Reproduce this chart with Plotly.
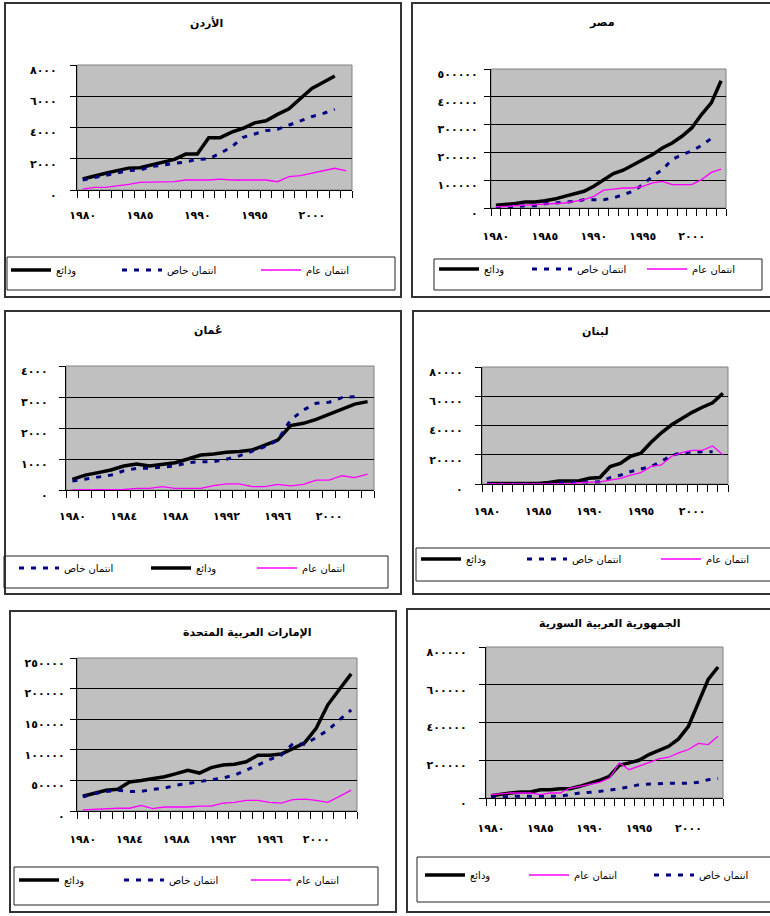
import plotly.graph_objects as go

# ---------------- data ----------------
years = [1980, 1981, 1982, 1983, 1984, 1985, 1986, 1987, 1988, 1989, 1990, 1991,
         1992, 1993, 1994, 1995, 1996, 1997, 1998, 1999, 2000, 2001, 2002, 2003]

series_names = {"dep": "ودائع", "priv": "انتمان خاص", "pub": "انتمان عام"}

# Jordan
jo_dep = [700, 900, 1070, 1240, 1400, 1420, 1600, 1800, 1960, 2300, 2300, 3350, 3350, 3700,
          3950, 4300, 4430, 4840, 5200, 5860, 6500, 6900, 7300, None]
jo_priv = [640, 800, 960, 1100, 1240, 1280, 1500, 1600, 1700, 1800, 1960, 2000, 2350, 2770,
           3370, 3600, 3800, 3880, 4160, 4400, 4700, 4900, 5160, None]
jo_pub = [60, 170, 170, 250, 360, 490, 490, 530, 530, 640, 640, 640, 700, 640, 640, 640, 640,
          530, 850, 920, 1070, 1220, 1390, 1220]

# Egypt
eg_dep = [10000, 12000, 16000, 22000, 22000, 26000, 32000, 42000, 52000, 60000, 78000, 102000,
          124000, 136000, 154000, 174000, 192000, 216000, 234000, 258000, 288000, 336000,
          378000, 458000]
eg_priv = [0, 3000, 5000, 8000, 8000, 15000, 18000, 20000, 24000, 30000, 30000, 30000, 36000,
           48000, 60000, 84000, 114000, 138000, 174000, 192000, 205000, 225000, 250000, None]
eg_pub = [4000, 6000, 8000, 10000, 12000, 14000, 16000, 18000, 24000, 30000, 42000, 64000,
          68000, 72000, 72000, 78000, 90000, 96000, 84000, 84000, 84000, 102000, 128000, 140000]

# Oman
om_dep = [340, 480, 560, 645, 775, 840, 775, 840, 880, 1000, 1130, 1160, 1215, 1240, 1290,
          1450, 1610, 2080, 2150, 2280, 2440, 2610, 2770, 2850]
om_priv = [290, 350, 400, 480, 620, 700, 700, 730, 775, 880, 915, 915, 990, 1100, 1240, 1400,
           1610, 2260, 2580, 2800, 2830, 2980, 3010, None]
om_pub = [0, 0, 0, 0, 20, 55, 55, 110, 55, 55, 55, 140, 195, 195, 110, 110, 180, 130, 180, 320,
          320, 460, 400, 510]

# Lebanon
lb_dep = [300, 300, 300, 300, 300, 300, 1000, 2000, 2000, 2200, 4000, 4400, 12000, 14000,
          19000, 21000, 28500, 35000, 40500, 45000, 49000, 52500, 55500, 62000]
lb_priv = [0, 0, 0, 0, 0, 0, 0, 1000, 1000, 1000, 1500, 1500, 4400, 6000, 8500, 10000, 12000,
           15500, 19500, 21500, 22000, 22000, 22000, None]
lb_pub = [0, 0, 0, 0, 0, 0, 0, 0, 0, 1000, 1000, 1500, 2700, 3900, 6000, 7800, 12000, 13000,
          19000, 21500, 23000, 23000, 26000, 20000]

# UAE
ae_dep = [24000, 29500, 34000, 35500, 47500, 50000, 52500, 56000, 61000, 66500, 62000, 71000,
          75000, 76500, 80500, 91000, 91000, 93000, 102000, 111500, 135000, 173500, 199000,
          224000]
ae_priv = [23000, 28500, 32000, 34000, 32000, 32000, 35500, 37500, 42000, 45000, 47500, 50000,
           54000, 58500, 66500, 75000, 84000, 91000, 110000, 109000, 120000, 132000, 149000,
           165000]
ae_pub = [2000, 3000, 4500, 4500, 4500, 9000, 4000, 6500, 6500, 6500, 8000, 8000, 13000, 14000,
          17500, 17500, 14000, 13000, 18500, 19500, 17500, 14000, 24000, 34000]

# Syria
sy_dep = [12000, 21000, 26500, 32000, 32000, 44000, 44000, 49500, 49500, 62000, 76000, 94000,
          115000, 173000, 186000, 200000, 230000, 253000, 274000, 313000, 380000, 504000,
          628000, 694000]
sy_pub = [18000, 23000, 26500, 26500, 26500, 18000, 26500, 26500, 53000, 62000, 71000, 83000,
          106000, 186000, 150000, 168000, 186000, 207000, 216000, 239000, 257000, 289000,
          283000, 327000]
sy_priv = [5000, 5000, 9000, 9000, 9000, 9000, 9000, 9000, 18000, 26500, 30000, 35000, 41000,
           50000, 58000, 71000, 74000, 74000, 78000, 78000, 78000, 83000, 97000, 103000]

# tick labels
x_ticks5 = [1980, 1985, 1990, 1995, 2000]
x_text5 = ["١٩٨٠", "١٩٨٥", "١٩٩٠", "١٩٩٥", "٢٠٠٠"]
x_ticks4 = [1980, 1984, 1988, 1992, 1996, 2000]
x_text4 = ["١٩٨٠", "١٩٨٤", "١٩٨٨", "١٩٩٢", "١٩٩٦", "٢٠٠٠"]

jo_yticks = [0, 2000, 4000, 6000, 8000]
jo_ytext = ["٠", "٢٠٠٠", "٤٠٠٠", "٦٠٠٠", "٨٠٠٠"]
eg_yticks = [0, 100000, 200000, 300000, 400000, 500000]
eg_ytext = ["٠", "١٠٠٠٠٠", "٢٠٠٠٠٠", "٣٠٠٠٠٠", "٤٠٠٠٠٠", "٥٠٠٠٠٠"]
om_yticks = [0, 1000, 2000, 3000, 4000]
om_ytext = ["٠", "١٠٠٠", "٢٠٠٠", "٣٠٠٠", "٤٠٠٠"]
lb_yticks = [0, 20000, 40000, 60000, 80000]
lb_ytext = ["٠", "٢٠٠٠٠", "٤٠٠٠٠", "٦٠٠٠٠", "٨٠٠٠٠"]
ae_yticks = [0, 50000, 100000, 150000, 200000, 250000]
ae_ytext = ["٠", "٥٠٠٠٠", "١٠٠٠٠٠", "١٥٠٠٠٠", "٢٠٠٠٠٠", "٢٥٠٠٠٠"]
sy_yticks = [0, 200000, 400000, 600000, 800000]
sy_ytext = ["٠", "٢٠٠٠٠٠", "٤٠٠٠٠٠", "٦٠٠٠٠٠", "٨٠٠٠٠٠"]

# ---------------- layout (pixels) ----------------
W, H = 770, 916
FONT = "DejaVu Sans"


def fx(x):
    return x / W


def fy(y):
    return 1 - y / H


panels = [
    dict(title="الأردن", data={"dep": jo_dep, "priv": jo_priv, "pub": jo_pub},
         yt=(jo_yticks, jo_ytext), xt=(x_ticks5, x_text5),
         plot=(77, 65, 352, 190), frame=(5, 3, 401, 297), leg=(7, 257, 395, 290),
         tpos=(207, 23), ygap=20, xdist=26,
         legend_items=[("dep", 12), ("priv", 123), ("pub", 262)], legy=270),
    dict(title="مصر", data={"dep": eg_dep, "priv": eg_priv, "pub": eg_pub},
         yt=(eg_yticks, eg_ytext), xt=(x_ticks5, x_text5),
         plot=(491, 69, 726, 208), frame=(412, 3, 773, 297), leg=(434, 259, 762, 290),
         tpos=(602, 23), ygap=13, xdist=29,
         legend_items=[("dep", 440), ("priv", 533), ("pub", 648)], legy=269),
    dict(title="عُمان", data={"dep": om_dep, "priv": om_priv, "pub": om_pub},
         yt=(om_yticks, om_ytext), xt=(x_ticks4, x_text4),
         plot=(66, 366, 374, 490), frame=(5, 311, 401, 594), leg=(4, 556, 388, 588),
         tpos=(208, 330), ygap=18, xdist=27,
         legend_items=[("priv", 20), ("dep", 152), ("pub", 258)], legy=568),
    dict(title="لبنان", data={"dep": lb_dep, "priv": lb_priv, "pub": lb_pub},
         yt=(lb_yticks, lb_ytext), xt=(x_ticks5, x_text5),
         plot=(482, 367, 728, 484), frame=(413, 311, 773, 594), leg=(416, 548, 773, 581),
         tpos=(595, 331), ygap=19, xdist=28,
         legend_items=[("dep", 422), ("priv", 528), ("pub", 662)], legy=559),
    dict(title="الإمارات العربية المتحدة", data={"dep": ae_dep, "priv": ae_priv, "pub": ae_pub},
         yt=(ae_yticks, ae_ytext), xt=(x_ticks4, x_text4),
         plot=(77, 658, 357, 811), frame=(10, 611, 396, 912), leg=(14, 867, 378, 905),
         tpos=(247, 632), ygap=12, xdist=29,
         legend_items=[("dep", 20), ("priv", 125), ("pub", 252)], legy=880),
    dict(title="الجمهورية العربية السورية", data={"dep": sy_dep, "priv": sy_priv, "pub": sy_pub},
         yt=(sy_yticks, sy_ytext), xt=(x_ticks5, x_text5),
         plot=(486, 647, 723, 798), frame=(407, 609, 773, 912), leg=(417, 857, 773, 902),
         tpos=(610, 623), ygap=19, xdist=31,
         legend_items=[("dep", 426), ("pub", 530), ("priv", 655)], legy=875),
]

styles = {
    "dep": dict(color="black", width=3.5),
    "priv": dict(color="#000080", width=3, dash="5px,7px"),
    "pub": dict(color="#FF00FF", width=1.3),
}

fig = go.Figure()
shapes = []
annotations = []
layout = dict(width=W, height=H, margin=dict(l=0, r=0, t=0, b=0, autoexpand=False),
              paper_bgcolor="white", plot_bgcolor="#C0C0C0", showlegend=True,
              font=dict(family=FONT, size=11, color="black"))

legend_counter = 1
for i, p in enumerate(panels, start=1):
    xa = "x" if i == 1 else f"x{i}"
    ya = "y" if i == 1 else f"y{i}"
    x0, y0, x1, y1 = p["plot"]
    legpos = {k: s for k, s in p["legend_items"]}
    for key in ["dep", "priv", "pub"]:
        legend_counter += 1
        lid = f"legend{legend_counter}"
        fig.add_trace(go.Scatter(
            x=years, y=p["data"][key], mode="lines", name=series_names[key],
            line=styles[key], xaxis=xa, yaxis=ya, legend=lid, connectgaps=False,
            showlegend=True, hoverinfo="skip"))
        layout[lid] = dict(
            x=fx(legpos[key] - 6), xanchor="left", y=fy(p["legy"]), yanchor="middle",
            bgcolor="rgba(0,0,0,0)", borderwidth=0, font=dict(family=FONT, size=10),
            itemwidth=40, orientation="h")
    yt, ytxt = p["yt"]
    xt, xtxt = p["xt"]
    layout["xaxis" if i == 1 else f"xaxis{i}"] = dict(
        domain=[fx(x0), fx(x1)], anchor=ya, range=[1979.5, 2003.5], automargin=False,
        tickmode="array", tickvals=xt, ticktext=xtxt, ticks="",
        tickfont=dict(family=FONT, size=11, weight="bold"),
        ticklabelstandoff=p["xdist"] - 11,
        showgrid=False, zeroline=False, showline=True, linecolor="black", linewidth=1,
        minor=dict(tickmode="linear", tick0=1979.5, dtick=1, ticks="outside", ticklen=7,
                   tickcolor="black", showgrid=False),
        fixedrange=True)
    layout["yaxis" if i == 1 else f"yaxis{i}"] = dict(
        domain=[fy(y1), fy(y0)], anchor=xa, range=[0, yt[-1]], automargin=False,
        tickmode="array", tickvals=yt, ticktext=ytxt, ticks="outside", ticklen=6,
        tickcolor="black", tickfont=dict(family=FONT, size=11, weight="bold"),
        ticklabelshift=5, ticklabelstandoff=max(p["ygap"] - 9, 0),
        showgrid=True, gridcolor="black", gridwidth=1, zeroline=False,
        showline=True, linecolor="black", linewidth=1, fixedrange=True)
    # plot-area border (top/right gray)
    shapes.append(dict(type="rect", xref=f"{xa} domain", yref=f"{ya} domain",
                       x0=0, x1=1, y0=0, y1=1, line=dict(color="#808080", width=1),
                       layer="below"))
    # panel frame
    fx0, fy0, fx1, fy1 = p["frame"]
    shapes.append(dict(type="rect", xref="paper", yref="paper",
                       x0=fx(fx0), x1=fx(fx1), y0=fy(fy1), y1=fy(fy0),
                       line=dict(color="#333333", width=2)))
    # legend box
    lx0, ly0, lx1, ly1 = p["leg"]
    shapes.append(dict(type="rect", xref="paper", yref="paper",
                       x0=fx(lx0), x1=fx(lx1), y0=fy(ly1), y1=fy(ly0),
                       line=dict(color="#222222", width=1)))
    # title
    tx, ty = p["tpos"]
    annotations.append(dict(text=f"<b>{p['title']}</b>", xref="paper", yref="paper",
                            x=fx(tx), y=fy(ty), xanchor="center", yanchor="middle",
                            showarrow=False, font=dict(family=FONT, size=11, color="black")))

layout["shapes"] = shapes
layout["annotations"] = annotations
fig.update_layout(**layout)
fig.write_html("out.html", config={"displayModeBar": False},
               post_script="document.body.style.margin='0';document.body.style.overflow='hidden';")
